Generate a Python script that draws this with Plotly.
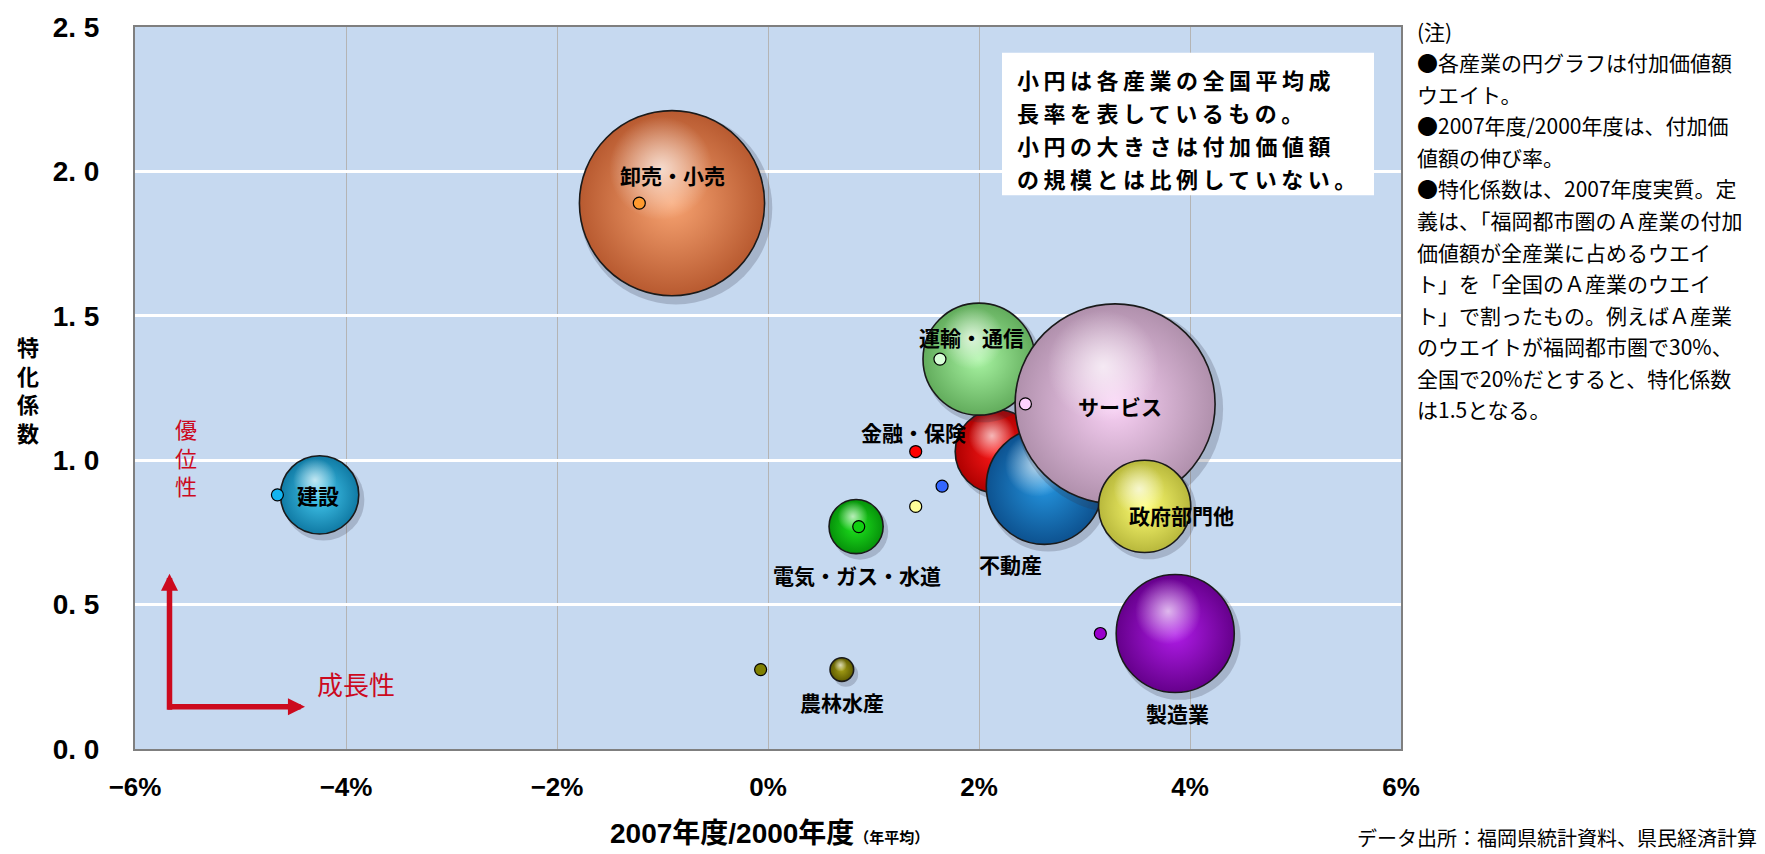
import math
import plotly.graph_objects as go

# ---------------- data ----------------
industries = ["卸売・小売", "運輸・通信", "サービス", "金融・保険", "不動産",
              "政府部門他", "電気・ガス・水道", "建設", "製造業", "農林水産"]
specialization = [1.89, 1.35, 1.195, 1.03, 0.91, 0.84, 0.77, 0.88, 0.40, 0.275]   # 特化係数
growth_fukuoka = [-0.91, 2.00, 3.29, 2.17, 2.62, 3.57, 0.835, -4.25, 3.86, 0.70]   # 福岡都市圏 (%)
growth_national = [-1.22, 1.63, 2.44, 1.40, 1.65, 1.40, 0.86, -4.65, 3.15, -0.07]  # 全国平均 (%)
value_added_weight = [24.6, 9.0, 28.7, 5.0, 9.7, 6.1, 2.1, 4.4, 10.0, 0.4]         # 付加価値額ウエイト (%)

x_tickvals = [-6, -4, -2, 0, 2, 4, 6]
x_ticktext = ["−6%", "−4%", "−2%", "0%", "2%", "4%", "6%"]
y_tickvals = [0, 0.5, 1.0, 1.5, 2.0, 2.5]
y_ticktext = ["0. 0", "0. 5", "1. 0", "1. 5", "2. 0", "2. 5"]

notes = ["(注)", "●各産業の円グラフは付加価値額", "ウエイト。", "●2007年度/2000年度は、付加価",
         "値額の伸び率。", "●特化係数は、2007年度実質。定", "義は、「福岡都市圏のＡ産業の付加",
         "価値額が全産業に占めるウエイ", "ト」を「全国のＡ産業のウエイ", "ト」で割ったもの。例えばＡ産業",
         "のウエイトが福岡都市圏で30%、", "全国で20%だとすると、特化係数", "は1.5となる。"]
box_lines = ["小円は各産業の全国平均成", "長率を表しているもの。",
             "小円の大きさは付加価値額", "の規模とは比例していない。"]

# ---------------- styles ----------------
bubble_color = ["#F8A472", "#A8F4A2", "#FAD2F6", "#FF1A1A", "#2494DE",
                "#FFFF74", "#1EE41E", "#46CCF2", "#B01CE8", "#A6A016"]
bubble_edge = ["#B85A30", "#62AC5C", "#B090AC", "#AE0000", "#0D5290",
               "#B8B83C", "#06920A", "#107AA4", "#66008C", "#5E5A00"]
dot_color = ["#FF9A2E", "#D8FFD8", "#FFD2FF", "#FF0000", "#3366FF",
             "#FFFF99", "#10D010", "#12B4F0", "#9A00CC", "#808000"]
label_shift = [(0, 28), (-8, 22), (5, -2), (-83, 20), (-34, -78),
               (37, -9), (1, -48), (-2, 0), (2, -80), (0, -32)]
draw_order = [0, 7, 9, 6, 8, 3, 4, 1, 2, 5]

FIG_W, FIG_H = 1765, 854
L, T, W, H = 135, 19, 1266, 730
R = FIG_W - L - W
B = FIG_H - T - H
X_RANGE = [-6, 6]
Y_RANGE = [0, 2.5]
px_per_x = W / (X_RANGE[1] - X_RANGE[0])
px_per_y = H / (Y_RANGE[1] - Y_RANGE[0])

MAX_D = 200
wmax = max(value_added_weight)
sizeref = 2 * wmax / MAX_D ** 2

BOLD_JP = "Noto Sans CJK JP"
NARROW = "Liberation Sans Narrow, Liberation Sans, Noto Sans CJK JP"
RED = "#CC0A1E"


def px(xpix):
    return (xpix - L) / W


def py(ypix):
    return (T + H - ypix) / H


fig = go.Figure()

for i in draw_order:
    g, s, w = growth_fukuoka[i], specialization[i], value_added_weight[i]
    r = MAX_D / 2 * math.sqrt(w / wmax)
    # shadow
    fig.add_trace(go.Scatter(
        x=[g + 4 / px_per_x], y=[s - 5 / px_per_y], mode="markers",
        marker=dict(size=[w], sizemode="area", sizeref=sizeref / 1.04 ** 2, opacity=1,
                    color="rgba(50,50,70,0.22)", line=dict(width=0)),
        hoverinfo="skip", showlegend=False))
    # sphere body (radial gradient: gradient.color = centre, marker.color = rim)
    fig.add_trace(go.Scatter(
        x=[g], y=[s], mode="markers", name=industries[i],
        marker=dict(size=[w], sizemode="area", sizeref=sizeref, opacity=1,
                    color=bubble_edge[i],
                    gradient=dict(type="radial", color=bubble_color[i]),
                    line=dict(color="#1A1A1A", width=1.6)),
        hovertemplate=industries[i] + "<extra></extra>", showlegend=False))
    # highlight
    fig.add_trace(go.Scatter(
        x=[g - 0.12 * r / px_per_x], y=[s + 0.38 * r / px_per_y], mode="markers",
        marker=dict(size=[w], sizemode="area", sizeref=sizeref * 3.2, opacity=1,
                    color="rgba(255,255,255,0)",
                    gradient=dict(type="radial", color="rgba(255,255,255,0.7)"),
                    line=dict(width=0)),
        hoverinfo="skip", showlegend=False))

# national average small circles
fig.add_trace(go.Scatter(
    x=growth_national, y=specialization, mode="markers",
    marker=dict(size=12, color=dot_color, opacity=1, line=dict(color="#000000", width=1.2)),
    text=industries, hovertemplate="%{text} 全国: %{x}%<extra></extra>", showlegend=False))

annotations = []
for i, name in enumerate(industries):
    dx, dy = label_shift[i]
    annotations.append(dict(
        x=growth_fukuoka[i], y=specialization[i], xref="x", yref="y",
        text=name, showarrow=False, xshift=dx, yshift=dy,
        font=dict(family=BOLD_JP, size=21, color="#000000", weight="bold")))

# y-axis title (vertical, stacked characters)
annotations.append(dict(
    x=px(28), y=py(385), xref="paper", yref="paper", text="<br>".join("特化係数"),
    showarrow=False, xanchor="center", yanchor="middle",
    font=dict(family=BOLD_JP, size=22, color="#000000", weight="bold")))

# x-axis title
annotations.append(dict(
    x=px(769), y=py(834), xref="paper", yref="paper", showarrow=False,
    xanchor="center", yanchor="middle",
    text="2007年度/2000年度<span style='font-size:15px'>（年平均）</span>",
    font=dict(family=NARROW, size=28, color="#000000", weight="bold")))

# source
annotations.append(dict(
    x=px(1759), y=py(838), xref="paper", yref="paper", showarrow=False,
    xanchor="right", yanchor="middle",
    text="データ出所：福岡県統計資料、県民経済計算",
    font=dict(family=BOLD_JP, size=20, color="#000000")))

# notes
for k, line in enumerate(notes):
    annotations.append(dict(
        x=px(1415), y=py(22.7 + 31.9 * k), xref="paper", yref="paper", showarrow=False,
        xanchor="left", yanchor="middle", text=line,
        font=dict(family=BOLD_JP, size=21, color="#000000")))

# explanatory box text
for k, line in enumerate(box_lines):
    annotations.append(dict(
        x=px(1015), y=py(72 + 33.3 * k), xref="paper", yref="paper", showarrow=False,
        xanchor="left", yanchor="middle",
        text="<span style='letter-spacing:4.5px'>" + line + "</span>",
        font=dict(family=BOLD_JP, size=22, color="#000000", weight="bold")))

# red arrows
annotations.append(dict(
    x=px(169.5), y=py(571.7), xref="paper", yref="paper", text="", showarrow=True,
    ax=0, ay=137.5, arrowhead=2, arrowsize=0.62, arrowwidth=5.5, arrowcolor=RED))
annotations.append(dict(
    x=px(305), y=py(706.3), xref="paper", yref="paper", text="", showarrow=True,
    ax=-138.5, ay=0, arrowhead=2, arrowsize=0.62, arrowwidth=5.5, arrowcolor=RED))
annotations.append(dict(
    x=px(186), y=py(453), xref="paper", yref="paper", text="<br>".join("優位性"),
    showarrow=False, xanchor="center", yanchor="middle",
    font=dict(family=BOLD_JP, size=22, color=RED)))
annotations.append(dict(
    x=px(356), y=py(683), xref="paper", yref="paper", text="成長性",
    showarrow=False, xanchor="center", yanchor="middle",
    font=dict(family=BOLD_JP, size=26, color=RED)))

shapes = [dict(type="rect", xref="paper", yref="paper",
               x0=px(1002), x1=px(1374), y0=py(189), y1=py(45),
               fillcolor="#FFFFFF", line=dict(width=0), layer="above")]

fig.update_layout(
    width=FIG_W, height=FIG_H,
    margin=dict(l=L, r=R, t=T, b=B, pad=0),
    paper_bgcolor="#FFFFFF", plot_bgcolor="#C6D9F0",
    showlegend=False, annotations=annotations, shapes=shapes,
    xaxis=dict(range=X_RANGE, tickvals=x_tickvals, ticktext=x_ticktext,
               showgrid=True, gridcolor="#B4B4B4", gridwidth=1, zeroline=False,
               showline=True, linecolor="#7F7F7F", linewidth=2, mirror=True,
               ticks="", ticklabelstandoff=14,
               tickfont=dict(family=NARROW, size=26, color="#000000", weight="bold")),
    yaxis=dict(range=Y_RANGE, tickvals=y_tickvals, ticktext=y_ticktext,
               showgrid=True, gridcolor="#FFFFFF", gridwidth=3, zeroline=False,
               showline=True, linecolor="#7F7F7F", linewidth=2, mirror=True,
               ticks="", ticklabelstandoff=28,
               tickfont=dict(family=NARROW, size=28, color="#000000", weight="bold")),
)

fig.write_html("out.html")
